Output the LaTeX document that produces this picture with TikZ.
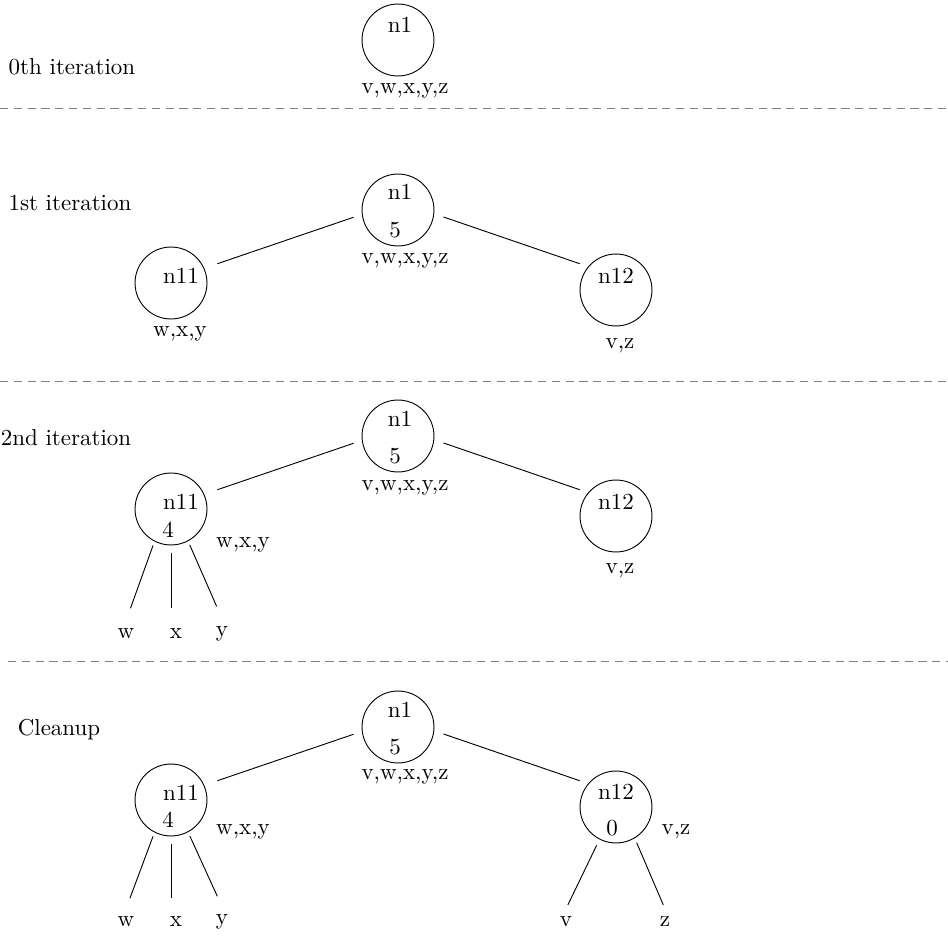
\documentclass[tikz,border=0pt]{standalone}
\begin{document}
\begin{tikzpicture}[x=0.435pt,y=-0.435pt,
  vertex/.style={circle,draw,minimum size=31.3pt,inner sep=0pt},
  sepline/.style={gray,dash pattern=on 3.6pt off 2.4pt}]
  \useasboundingbox (0,0) rectangle (948,937);

  % 0th iteration
  \node (t0) at (72,67) {0th iteration};
  \node[vertex] (n1-0) at (398,40) {};
  \node at (400,25) {n1};
  \node at (405,91) {v,w,x,y,z};
  \draw[sepline] (0,108) -- (948,108);

  % 1st iteration
  \begin{scope}[shift={(0,210)}]
    \node (t1) at (70,-7) {1st iteration};
    \node[vertex] (n1-1) at (398,0) {};
    \node at (400,-18) {n1};
    \node at (395,20) {5};
    \node at (405,51) {v,w,x,y,z};
    \node[vertex] (n11-1) at (171,73) {};
    \node at (181,66) {n11};
    \node at (180,124) {w,x,y};
    \node[vertex] (n12-1) at (616,80) {};
    \node at (616,66) {n12};
    \node at (620,136) {v,z};
    \draw[shorten <=3.8pt,shorten >=6pt] (n1-1.187) -- (n11-1.24);
    \draw[shorten <=4.2pt,shorten >=3.9pt] (n1-1.354) -- (n12-1.140);
  \end{scope}
  \draw[sepline] (0,381) -- (948,381);

  % 2nd iteration
  \begin{scope}[shift={(0,436)}]
    \node (t2) at (66,2) {2nd iteration};
    \node[vertex] (n1-2) at (398,0) {};
    \node at (400,-17) {n1};
    \node at (395,20) {5};
    \node at (405,52) {v,w,x,y,z};
    \node[vertex] (n11-2) at (171,73) {};
    \node at (181,66) {n11};
    \node at (168,94) {4};
    \node at (243,109) {w,x,y};
    \node[vertex] (n12-2) at (616,80) {};
    \node at (616,66) {n12};
    \node at (620,135) {v,z};
    \draw[shorten <=3.8pt,shorten >=6pt] (n1-2.187) -- (n11-2.24);
    \draw[shorten <=4.2pt,shorten >=3.9pt] (n1-2.354) -- (n12-2.140);
    % leaves
    \node (w-2) at (126,198) {w};
    \node (x-2) at (176,198) {x};
    \node (y-2) at (222,198) {y};
    \draw[shorten <=1.8pt,shorten >=5.8pt] (n11-2.243) -- (w-2.north);
    \draw[shorten <=3.5pt,shorten >=5.8pt] (n11-2.270) -- (n11-2.270 |- x-2.north);
    \draw[shorten <=1.8pt,shorten >=5.8pt] (n11-2.298) -- (y-2.north);
  \end{scope}
  \draw[sepline] (8,661) -- (948,661);

  % Cleanup
  \begin{scope}[shift={(0,727)}]
    \node (t3) at (59,3) {Cleanup};
    \node[vertex] (n1-3) at (398,0) {};
    \node at (400,-17) {n1};
    \node at (395,20) {5};
    \node at (405,50) {v,w,x,y,z};
    \node[vertex] (n11-3) at (171,73) {};
    \node at (181,66) {n11};
    \node at (168,93) {4};
    \node at (243,105) {w,x,y};
    \node[vertex] (n12-3) at (616,80) {};
    \node at (616,65) {n12};
    \node at (612,101) {0};
    \node at (676,105) {v,z};
    \draw[shorten <=3.8pt,shorten >=6pt] (n1-3.187) -- (n11-3.24);
    \draw[shorten <=4.2pt,shorten >=3.9pt] (n1-3.354) -- (n12-3.140);
    % leaves
    \node (w-3) at (126,195) {w};
    \node (x-3) at (176,195) {x};
    \node (y-3) at (222,195) {y};
    \node (v-3) at (566,195) {v};
    \node (z-3) at (665,195) {z};
    \draw[shorten <=1.8pt,shorten >=4.9pt] (n11-3.243) -- (w-3.north);
    \draw[shorten <=3.5pt,shorten >=4.9pt] (n11-3.270) -- (n11-3.270 |- x-3.north);
    \draw[shorten <=1.8pt,shorten >=4.9pt] (n11-3.298) -- (y-3.north);
    \draw[shorten <=2.8pt,shorten >=1.9pt] (n12-3.243) -- (v-3.north);
    \draw[shorten <=2.1pt,shorten >=1.9pt] (n12-3.301) -- (z-3.north);
  \end{scope}
\end{tikzpicture}
\end{document}
